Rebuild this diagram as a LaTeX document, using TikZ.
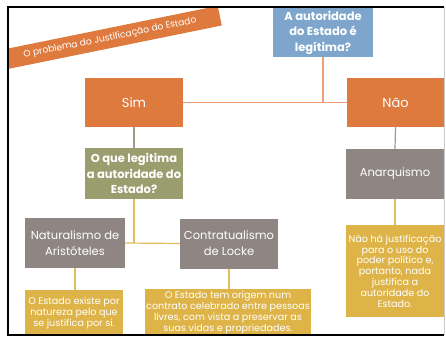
\documentclass[tikz,border=0pt]{standalone}
\usepackage{fontspec}
\setmainfont{Poppins}
\definecolor{orng}{RGB}{222,122,62}
\definecolor{blu}{RGB}{126,166,205}
\definecolor{grn}{RGB}{154,158,110}
\definecolor{gry}{RGB}{143,134,131}
\definecolor{ylw}{RGB}{222,180,72}
\definecolor{lorng}{RGB}{236,160,115}
\definecolor{lgry}{RGB}{160,155,140}
\definecolor{lylw}{RGB}{226,190,90}
\begin{document}
\begin{tikzpicture}[x=1pt,y=1pt,
  box/.style={draw=none, text=white, align=center, inner sep=0pt},
  obox/.style={box, fill=orng, minimum width=98pt, minimum height=49pt, font=\fontsize{13}{15}\selectfont},
  gbox/.style={box, fill=gry, minimum width=98pt, minimum height=50pt, font=\fontsize{11.5}{16}\selectfont},
  ybox/.style={box, fill=ylw, font=\fontsize{9.6}{10.8}\selectfont},
  qbox/.style={box, fill=#1, minimum width=98pt, minimum height=50pt, font=\bfseries\fontsize{11.5}{15.5}\selectfont},
  oline/.style={draw=lorng, line width=1.2pt},
  gline/.style={draw=lgry, line width=1.2pt},
  yline/.style={draw=lylw, line width=1.2pt}]
\useasboundingbox (0,0) rectangle (446,338);
\fill[white] (0,0) rectangle (446,338);
\begin{scope}
\clip (8,3) rectangle (444,331);
\node[box, fill=orng, rotate=11.5, minimum width=224pt, minimum height=20pt,
  font=\fontsize{9.2}{10}\selectfont] (ban) at (110,300) {O problema do Justificação do Estado};
% nodes
\node[qbox=blu, minimum width=100pt, minimum height=49pt] (q) at (323,305.5) {A autoridade\\do Estado é\\legítima?};
\node[obox] (sim) at (134,235.5) {Sim};
\node[obox, minimum width=97pt] (nao) at (395.5,235.5) {Não};
\node[qbox=grn, minimum height=51pt] (leg) at (134,164.5) {O que legitima\\a autoridade do\\Estado?};
\node[gbox] (anq) at (395,164) {Anarquismo};
\node[gbox, minimum width=100pt] (nat) at (75,95) {Naturalismo de\\Aristóteles};
\node[gbox] (con) at (229,94.5) {Contratualismo\\de Locke};
\node[ybox, minimum width=98pt, minimum height=46pt] (ynat) at (74,25) {O Estado existe por\\natureza pelo que\\se justifica por si.};
\node[ybox, minimum width=166pt, minimum height=47pt] (ycon) at (228,25.5) {O Estado tem origem num\\contrato celebrado entre pessoas\\livres, com vista a preservar as\\suas vidas e propriedades.};
\node[ybox, minimum width=98pt, minimum height=92pt] (yanq) at (395,67) {Não há justificação\\para o uso do\\poder político e,\\portanto, nada\\justifica a\\autoridade do\\Estado.};
% connectors
\draw[oline] (sim.east) -- (nao.west);
\draw[oline] (q.south) -- (q.south |- sim.east);
\draw[gline] (sim.south) -- (leg.north);
\draw[gline] (nao.south) -- (anq.north);
\draw[yline] (anq.south) -- (yanq.north);
\draw[yline] (nat.east) -- (con.west);
\draw[yline] (leg.south) -- (leg.south |- nat.east);
\draw[yline] (nat.south) -- (ynat.north -| nat.south);
\draw[yline] (con.south) -- (ycon.north -| con.south);
\end{scope}
% frame
\draw[black, line width=2pt] (444,331) -- (8,331) -- (8,3) -- (444,3);
\draw[gray!40, line width=0.6pt] (444,331) -- (444,3);
\end{tikzpicture}
\end{document}
